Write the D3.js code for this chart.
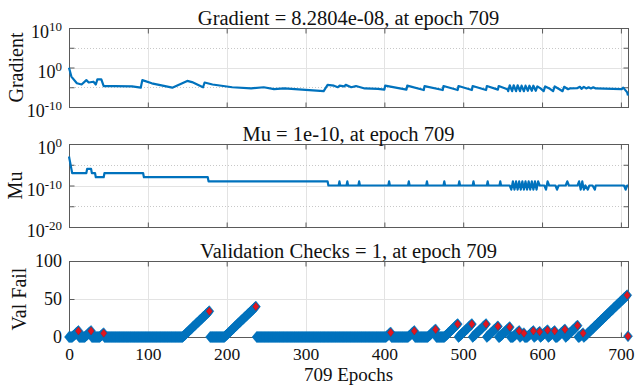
<!DOCTYPE html>
<html>
<head>
<meta charset="utf-8">
<script src="https://cdn.jsdelivr.net/npm/d3@7"></script>
<style>
  body { margin: 0; background: #fff; }
  svg { display: block; }
  text { font-family: "Liberation Serif", "Times New Roman", serif; fill: #111; }
</style>
</head>
<body>
<svg id="chart" width="637" height="386"></svg>
<script>
// ---- training record -------------------------------------------------------
const lastEpoch = 709;
const epochTicks = [0, 100, 200, 300, 400, 500, 600, 700];

// gradient magnitude at selected epochs (piecewise-linear record)
const gradEpochs = [0, 3, 10, 16, 22, 25, 31, 34, 36, 41, 44, 58, 80, 91, 93, 105, 131, 150, 156, 170, 172, 182, 207, 231, 247, 260, 273, 323, 328, 336, 341, 343, 349, 351, 358, 364, 375, 392,
  400, 401, 428, 429, 450, 451, 474, 475, 493, 494, 511, 512, 529, 530, 544, 545, 556,
  557, 559, 562, 564, 567, 569, 572, 574, 577, 579, 582, 584, 587, 589, 592, 594,
  598, 602, 604, 610, 614, 616, 622, 626, 628, 633, 635,
  645, 648, 650, 653, 656, 659, 662, 665, 668, 701, 703, 708, 709];
const gradValues = [0.89, 5.0e-3, 1.0e-4, 5.0e-5, 6.3e-4, 1.6e-4, 2.5e-4, 5.0e-5, 1.0e-3, 1.0e-3, 2.0e-5, 2.0e-5, 1.6e-5, 7.9e-6, 6.3e-4, 1.0e-4, 7.9e-6, 4.0e-4, 2.0e-4, 1.0e-5, 1.6e-4, 5.0e-5, 1.0e-5, 5.0e-6, 1.0e-5, 3.2e-6, 5.0e-6, 1.0e-6, 4.0e-5, 2.5e-5, 1.0e-5, 2.5e-5, 1.6e-5, 4.0e-5, 1.0e-5, 2.0e-5, 5.0e-6, 4.0e-6,
  2.5e-6, 2.5e-5, 2.5e-6, 2.5e-5, 2.0e-6, 2.0e-5, 2.0e-6, 2.0e-5, 2.0e-6, 2.0e-5, 2.0e-6, 2.0e-5, 2.0e-6, 2.0e-5, 2.5e-6, 2.0e-5, 3.2e-6,
  1.0e-6, 3.2e-5, 1.0e-6, 3.2e-5, 1.0e-6, 3.2e-5, 1.0e-6, 2.5e-5, 1.0e-6, 2.5e-5, 1.3e-6, 2.5e-5, 1.3e-6, 2.5e-5, 1.3e-6, 1.6e-5,
  5.0e-6, 1.0e-6, 1.6e-5, 4.0e-6, 1.0e-6, 1.6e-5, 3.2e-6, 1.0e-6, 1.3e-5, 3.2e-6, 5.0e-6,
  6.3e-6, 1.3e-5, 4.0e-6, 1.3e-5, 5.0e-6, 1.0e-5, 5.0e-6, 1.0e-5, 5.0e-6, 3.2e-6, 7.9e-6, 5.0e-7, 8.2804e-8];

// Levenberg-Marquardt mu
const muEpochs = [0, 1, 2, 3, 4, 22, 23, 28, 29, 33, 34, 44, 45, 94, 95, 176, 177, 328, 329,
  342, 343, 344, 352, 353, 354, 367, 368, 369, 405, 406, 407, 430, 431, 432, 453, 454, 455,
  475, 476, 477, 494, 495, 496, 512, 513, 514, 530, 531, 532, 546, 547, 548,
  559, 561, 563, 565, 567, 569, 571, 573, 575, 577, 579, 581, 583, 585, 587, 589, 591, 593, 595, 597,
  603, 605, 607, 609, 617, 619, 621, 630, 632, 634,
  645, 647, 649, 651, 653, 655, 658, 660, 664, 667, 668, 704, 706, 708, 709];
const muValues = [1e-3, 1e-4, 1e-5, 1e-6, 1e-7, 1e-7, 1e-6, 1e-6, 1e-7, 1e-7, 1e-8, 1e-8, 1e-7, 1e-7, 1e-8, 1e-8, 1e-9, 1e-9, 1e-10,
  1e-10, 1e-9, 1e-10, 1e-10, 1e-9, 1e-10, 1e-10, 1e-9, 1e-10, 1e-10, 1e-9, 1e-10, 1e-10, 1e-9, 1e-10, 1e-10, 1e-9, 1e-10,
  1e-10, 1e-9, 1e-10, 1e-10, 1e-9, 1e-10, 1e-10, 1e-9, 1e-10, 1e-10, 1e-9, 1e-10, 1e-10, 1e-9, 1e-10,
  1e-10, 1e-11, 1e-9, 1e-11, 1e-9, 1e-11, 1e-9, 1e-11, 1e-9, 1e-11, 1e-9, 1e-11, 1e-9, 1e-11, 1e-9, 1e-11, 1e-9, 1e-11, 1e-9, 1e-10,
  1e-10, 1e-11, 1e-9, 1e-10, 1e-10, 1e-11, 1e-10, 1e-10, 1e-9, 1e-10,
  1e-10, 1e-9, 1e-11, 1e-9, 1e-11, 1e-10, 1e-11, 1e-10, 1e-10, 1e-11, 1e-10, 1e-10, 1e-11, 1e-10, 1e-10];

// validation failure counter: epoch at which each run of failures peaked, and its count
const failPeakEpochs = [12, 28, 44, 178, 237, 408, 438, 465, 493, 511, 529, 544, 559, 571, 577, 589, 597, 607, 616, 629, 645, 652, 708, 709];
const failPeakValues = [8, 8, 5, 34, 40, 6, 8, 10, 17, 17, 17, 14, 13, 8, 5, 8, 7, 9, 8, 10, 15, 5, 55, 1];

const titles = [
  "Gradient = 8.2804e-08, at epoch 709",
  "Mu = 1e-10, at epoch 709",
  "Validation Checks = 1, at epoch 709"
];
const yLabels = ["Gradient", "Mu", "Val Fail"];
const xLabel = "709 Epochs";

// ---- layout ----------------------------------------------------------------
const BLUE = "#0072BD", RED = "#E2151E";
const GRID = "#e3e3e3", AXIS = "#5a5a5a";
const left = 69, right = 628;
const svg = d3.select("#chart");

const x = d3.scaleLinear().domain([0, lastEpoch]).range([left, right]);

const panels = [
  { top: 28, bottom: 107, type: "log", domain: [1e-10, 1e10], ticks: [1e-10, 1e-5, 1, 1e5, 1e10],
    labelled: [[1e-10, "-10"], [1, "0"], [1e10, "10"]], major: [1], minor: [1e-5, 1e5], ylabX: 23 },
  { top: 144, bottom: 227, type: "log", domain: [1e-20, 1], ticks: [1e-20, 1e-15, 1e-10, 1e-5, 1],
    labelled: [[1e-20, "-20"], [1e-10, "-10"], [1, "0"]], major: [1e-10], minor: [1e-15, 1e-5], ylabX: 22 },
  { top: 261, bottom: 337, type: "lin", domain: [0, 100], ticks: [0, 50, 100],
    labelled: [[0, "0"], [50, "50"], [100, "100"]], major: [50], minor: [], ylabX: 26 }
];

panels.forEach((p, i) => {
  p.y = (p.type === "log" ? d3.scaleLog() : d3.scaleLinear()).domain(p.domain).range([p.bottom, p.top]);
  const g = svg.append("g");

  // grid
  g.selectAll(".vgrid").data(epochTicks.filter(t => t > 0)).join("line")
    .attr("x1", d => Math.round(x(d)) + 0.5).attr("x2", d => Math.round(x(d)) + 0.5)
    .attr("y1", p.top).attr("y2", p.bottom)
    .attr("stroke", GRID).attr("stroke-width", 1);
  g.selectAll(".hgrid").data(p.major).join("line")
    .attr("x1", left).attr("x2", right)
    .attr("y1", d => Math.round(p.y(d)) + 0.5).attr("y2", d => Math.round(p.y(d)) + 0.5)
    .attr("stroke", GRID).attr("stroke-width", 1);
  g.selectAll(".mgrid").data(p.minor).join("line")
    .attr("x1", left).attr("x2", right)
    .attr("y1", d => Math.round(p.y(d)) + 0.5).attr("y2", d => Math.round(p.y(d)) + 0.5)
    .attr("stroke", "#c8c8c8").attr("stroke-width", 1).attr("stroke-dasharray", "1,2");

  // box
  g.append("rect")
    .attr("x", left + 0.5).attr("y", p.top + 0.5)
    .attr("width", right - left).attr("height", p.bottom - p.top)
    .attr("fill", "none").attr("stroke", AXIS).attr("stroke-width", 1);

  // inward ticks on all four sides
  const tickLen = 5;
  g.append("g").attr("transform", `translate(0,${p.bottom + 0.5})`)
    .call(d3.axisBottom(x).tickValues(epochTicks).tickSizeInner(-tickLen).tickSizeOuter(0).tickFormat(""))
    .call(a => a.select(".domain").remove())
    .call(a => a.selectAll("line").attr("stroke", AXIS));
  g.append("g").attr("transform", `translate(0,${p.top + 0.5})`)
    .call(d3.axisTop(x).tickValues(epochTicks).tickSizeInner(-tickLen).tickSizeOuter(0).tickFormat(""))
    .call(a => a.select(".domain").remove())
    .call(a => a.selectAll("line").attr("stroke", AXIS));
  g.append("g").attr("transform", `translate(${left + 0.5},0)`)
    .call(d3.axisLeft(p.y).tickValues(p.ticks).tickSizeInner(-tickLen).tickSizeOuter(0).tickFormat(""))
    .call(a => a.select(".domain").remove())
    .call(a => a.selectAll("line").attr("stroke", AXIS));
  g.append("g").attr("transform", `translate(${right + 0.5},0)`)
    .call(d3.axisRight(p.y).tickValues(p.ticks).tickSizeInner(-tickLen).tickSizeOuter(0).tickFormat(""))
    .call(a => a.select(".domain").remove())
    .call(a => a.selectAll("line").attr("stroke", AXIS));

  // y tick labels
  p.labelled.forEach(([v, s]) => {
    const ty = p.y(v);
    if (p.type === "log") {
      const t = g.append("text").attr("x", 62).attr("y", ty + 10)
        .attr("text-anchor", "end").style("font-size", "18px");
      t.append("tspan").text("10");
      t.append("tspan").attr("dy", -7).style("font-size", "13px").text(s);
    } else {
      g.append("text").attr("x", 62).attr("y", ty + 6)
        .attr("text-anchor", "end").style("font-size", "18px").text(s);
    }
  });

  // title and y label
  g.append("text").attr("x", (left + right) / 2).attr("y", p.top - 3)
    .attr("text-anchor", "middle").style("font-size", "20.5px").text(titles[i]);
  g.append("text")
    .attr("transform", `translate(${p.ylabX},${(p.top + p.bottom) / 2}) rotate(-90)`)
    .attr("text-anchor", "middle").style("font-size", "20px").text(yLabels[i]);
});

// x tick labels and x label under the last panel
const p3 = panels[2];
svg.append("g").attr("transform", `translate(0,${p3.bottom})`)
  .call(d3.axisBottom(x).tickValues(epochTicks).tickSize(0).tickPadding(0).tickFormat(d3.format("d")))
  .call(a => a.select(".domain").remove())
  .call(a => a.selectAll("text").attr("dy", null).attr("y", 22.5)
    .style("font-size", "17.5px").style("font-family", "Liberation Serif, serif").attr("fill", "#111"));
svg.append("text").attr("x", (left + right) / 2).attr("y", 380.5)
  .attr("text-anchor", "middle").style("font-size", "19px").text(xLabel);

// ---- series ----------------------------------------------------------------
const gradData = gradEpochs.map((e, i) => ({ e, v: gradValues[i] }));
svg.append("path").datum(gradData)
  .attr("fill", "none").attr("stroke", BLUE).attr("stroke-width", 2.2).attr("stroke-linejoin", "round")
  .attr("d", d3.line().x(d => x(d.e)).y(d => panels[0].y(d.v)));

const muData = muEpochs.map((e, i) => ({ e, v: muValues[i] }));
svg.append("path").datum(muData)
  .attr("fill", "none").attr("stroke", BLUE).attr("stroke-width", 2.2).attr("stroke-linejoin", "round")
  .attr("d", d3.line().x(d => x(d.e)).y(d => panels[1].y(d.v)));

// the failure count at every epoch, rebuilt from the counter peaks
const failData = d3.range(0, lastEpoch + 1).map(e => {
  const i = d3.bisectLeft(failPeakEpochs, e);
  const v = i < failPeakEpochs.length ? Math.max(0, failPeakValues[i] - (failPeakEpochs[i] - e)) : 0;
  return { e, v };
});
const diamond = (hw, hh) => `M0,${-hh}L${hw},0L0,${hh}L${-hw},0Z`;
svg.append("g").selectAll("path").data(failData).join("path")
  .attr("transform", d => `translate(${x(d.e)},${p3.y(d.v)})`)
  .attr("d", diamond(4.5, 5.5)).attr("fill", BLUE).attr("stroke", BLUE).attr("stroke-width", 0.5);
svg.append("g").selectAll("path").data(failPeakEpochs.map((e, i) => ({ e, v: failPeakValues[i] }))).join("path")
  .attr("transform", d => `translate(${x(d.e)},${p3.y(d.v)})`)
  .attr("d", diamond(3, 4)).attr("fill", RED).attr("stroke", "#b3121a").attr("stroke-width", 0.5);
</script>
</body>
</html>
